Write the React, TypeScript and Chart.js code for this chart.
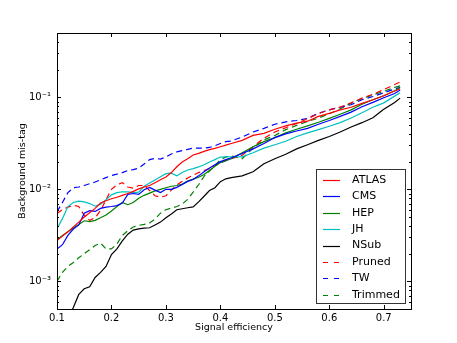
import React, { useEffect, useRef } from "react";
import { Chart, registerables } from "chart.js";

Chart.register(...registerables);

const effX = [
  0.10, 0.11, 0.12, 0.13, 0.14, 0.15, 0.16, 0.17, 0.18, 0.19,
  0.20, 0.21, 0.22, 0.23, 0.24, 0.25, 0.26, 0.27, 0.28, 0.29,
  0.30, 0.31, 0.32, 0.33, 0.34, 0.35, 0.36, 0.37, 0.38, 0.39,
  0.40, 0.41, 0.42, 0.44, 0.46, 0.48, 0.50, 0.52, 0.54, 0.56,
  0.58, 0.60, 0.62, 0.64, 0.66, 0.68, 0.70, 0.72, 0.73,
];

const atlas = [
  2.78e-3, 3.1e-3, 3.45e-3, 3.9e-3, 4.4e-3, 5.0e-3, 5.55e-3, 6.2e-3, 7.1e-3, 7.5e-3,
  7.9e-3, 8.2e-3, 8.6e-3, 9.0e-3, 9.5e-3, 1.01e-2, 1.06e-2, 1.1e-2, 1.18e-2, 1.27e-2,
  1.36e-2, 1.52e-2, 1.76e-2, 1.98e-2, 2.15e-2, 2.36e-2, 2.46e-2, 2.58e-2, 2.7e-2, 2.79e-2,
  2.9e-2, 3.02e-2, 3.15e-2, 3.4e-2, 3.85e-2, 4.05e-2, 4.5e-2, 4.9e-2, 5.25e-2, 5.5e-2,
  6.2e-2, 6.7e-2, 7.3e-2, 7.8e-2, 8.6e-2, 9.4e-2, 0.104, 0.117, 0.123,
];

const cms = [
  2.25e-3, 2.5e-3, 3.15e-3, 3.7e-3, 4.1e-3, 5.5e-3, 5.85e-3, 5.75e-3, 6.2e-3, 6.4e-3,
  6.5e-3, 6.65e-3, 7.1e-3, 8.8e-3, 9.0e-3, 8.8e-3, 9.9e-3, 1.05e-2, 9.8e-3, 9.2e-3,
  1.0e-2, 1.0e-2, 1.05e-2, 1.13e-2, 1.22e-2, 1.28e-2, 1.4e-2, 1.55e-2, 1.7e-2, 1.85e-2,
  2.0e-2, 2.1e-2, 2.2e-2, 2.45e-2, 2.75e-2, 3.15e-2, 3.65e-2, 4.0e-2, 4.3e-2, 4.6e-2,
  5.1e-2, 5.6e-2, 6.2e-2, 6.9e-2, 7.9e-2, 8.8e-2, 9.9e-2, 0.11, 0.12,
];

const hep = [
  2.83e-3, 3.15e-3, 3.45e-3, 3.8e-3, 4.15e-3, 4.55e-3, 4.45e-3, 4.6e-3, 4.9e-3, 5.25e-3,
  5.8e-3, 6.5e-3, 7.2e-3, 6.8e-3, 7.2e-3, 8.0e-3, 8.6e-3, 9.1e-3, 9.6e-3, 1.0e-2,
  1.04e-2, 1.08e-2, 1.1e-2, 1.14e-2, 1.23e-2, 1.29e-2, 1.35e-2, 1.45e-2, 1.6e-2, 1.78e-2,
  1.95e-2, 2.05e-2, 2.15e-2, 2.5e-2, 2.9e-2, 3.3e-2, 3.65e-2, 4.1e-2, 4.5e-2, 4.9e-2,
  5.35e-2, 5.9e-2, 6.55e-2, 7.3e-2, 8.4e-2, 9.4e-2, 0.104, 0.118, 0.128,
];

const jh = [
  3.73e-3, 4.8e-3, 6.5e-3, 7.2e-3, 7.45e-3, 7.3e-3, 7.0e-3, 6.55e-3, 6.9e-3, 7.7e-3,
  8.7e-3, 9.2e-3, 9.4e-3, 9.4e-3, 9.2e-3, 9.3e-3, 1.08e-2, 1.17e-2, 1.26e-2, 1.37e-2,
  1.48e-2, 1.5e-2, 1.4e-2, 1.52e-2, 1.62e-2, 1.68e-2, 1.75e-2, 1.85e-2, 1.98e-2, 2.1e-2,
  2.24e-2, 2.26e-2, 2.26e-2, 2.25e-2, 2.5e-2, 2.8e-2, 3.05e-2, 3.33e-2, 3.75e-2, 4.1e-2,
  4.45e-2, 4.85e-2, 5.3e-2, 5.95e-2, 6.8e-2, 7.8e-2, 8.7e-2, 0.103, 0.112,
];

const nsub = [
  2.4e-4, 3.0e-4, 3.9e-4, 5.2e-4, 7.2e-4, 8.3e-4, 8.7e-4, 1.1e-3, 1.25e-3, 1.45e-3,
  1.95e-3, 2.25e-3, 2.75e-3, 3.25e-3, 3.6e-3, 3.72e-3, 3.78e-3, 3.82e-3, 4.1e-3, 4.4e-3,
  4.9e-3, 5.4e-3, 6.0e-3, 6.15e-3, 6.3e-3, 6.45e-3, 7.3e-3, 8.4e-3, 9.7e-3, 1.04e-2,
  1.21e-2, 1.3e-2, 1.34e-2, 1.4e-2, 1.55e-2, 1.9e-2, 2.15e-2, 2.4e-2, 2.75e-2, 3.05e-2,
  3.4e-2, 3.75e-2, 4.2e-2, 4.75e-2, 5.3e-2, 6.0e-2, 7.4e-2, 8.8e-2, 9.8e-2,
];

const pruned = [
  5.45e-3, 6.0e-3, 6.4e-3, 6.7e-3, 6.5e-3, 5.2e-3, 4.6e-3, 4.9e-3, 5.9e-3, 7.7e-3,
  1.0e-2, 1.12e-2, 1.18e-2, 1.06e-2, 1.03e-2, 1.1e-2, 1.1e-2, 9.7e-3, 8.5e-3, 8.2e-3,
  8.5e-3, 9.8e-3, 1.12e-2, 1.22e-2, 1.33e-2, 1.42e-2, 1.52e-2, 1.6e-2, 1.68e-2, 1.8e-2,
  1.93e-2, 2.05e-2, 2.15e-2, 2.35e-2, 2.9e-2, 3.6e-2, 4.2e-2, 4.67e-2, 5.2e-2, 5.85e-2,
  6.65e-2, 7.3e-2, 7.85e-2, 8.7e-2, 9.8e-2, 0.108, 0.121, 0.138, 0.147,
];

const tw = [
  5.7e-3, 7.2e-3, 9.2e-3, 1.04e-2, 1.06e-2, 1.1e-2, 1.15e-2, 1.2e-2, 1.27e-2, 1.34e-2,
  1.41e-2, 1.46e-2, 1.52e-2, 1.6e-2, 1.64e-2, 1.7e-2, 1.88e-2, 2.1e-2, 2.17e-2, 2.13e-2,
  2.25e-2, 2.42e-2, 2.55e-2, 2.63e-2, 2.72e-2, 2.8e-2, 2.8e-2, 2.81e-2, 2.85e-2, 2.97e-2,
  3.15e-2, 3.3e-2, 3.35e-2, 3.7e-2, 4.2e-2, 4.6e-2, 5.1e-2, 5.4e-2, 5.6e-2, 5.9e-2,
  6.7e-2, 7.3e-2, 7.8e-2, 8.3e-2, 9.4e-2, 0.102, 0.112, 0.123, 0.128,
];

const trimmed = [
  1.0e-3, 1.25e-3, 1.45e-3, 1.6e-3, 1.8e-3, 2.0e-3, 2.2e-3, 2.45e-3, 2.6e-3, 2.25e-3,
  2.25e-3, 2.55e-3, 3.15e-3, 3.55e-3, 3.9e-3, 4.05e-3, 4.15e-3, 4.3e-3, 4.75e-3, 5.5e-3,
  6.0e-3, 6.25e-3, 6.5e-3, 6.9e-3, 7.8e-3, 9.3e-3, 1.12e-2, 1.38e-2, 1.58e-2, 1.82e-2,
  2.1e-2, 2.25e-2, 2.3e-2, 2.15e-2, 2.8e-2, 3.45e-2, 3.85e-2, 4.45e-2, 4.95e-2, 5.45e-2,
  5.95e-2, 6.6e-2, 7.5e-2, 8.6e-2, 9.7e-2, 0.106, 0.116, 0.128, 0.133,
];

const seriesNames = ["ATLAS", "CMS", "HEP", "JH", "NSub", "Pruned", "TW", "Trimmed"];
const seriesValues = [atlas, cms, hep, jh, nsub, pruned, tw, trimmed];
const seriesColors = ["#ff0000", "#0000ff", "#008000", "#00bfbf", "#000000", "#ff0000", "#0000ff", "#008000"];
const seriesDashed = [false, false, false, false, false, true, true, true];

const xTickValues = [0.1, 0.2, 0.3, 0.4, 0.5, 0.6, 0.7];
const yTickValues = [1e-3, 1e-2, 1e-1];
const xMin = 0.1;
const xMax = 0.75;
const yMin = 5e-4;
const yMax = 0.5;
const xTitle = "Signal efficiency";
const yTitle = "Background mis-tag";

const FONT = "'DejaVu Sans', sans-serif";
const SUP: Record<string, string> = { "-": "\u207B", "0": "\u2070", "1": "\u00B9", "2": "\u00B2", "3": "\u00B3", "4": "\u2074" };
const powLabel = (v: number) => {
  const e = Math.round(Math.log10(v));
  return "10" + String(e).split("").map((c) => SUP[c] || c).join("");
};

const DASH = [6, 4];

const framePlugin = {
  id: "mplFrame",
  afterDatasetsDraw(chart: any) {
    const { ctx, chartArea: a, scales } = chart;
    const xs = scales.x;
    const ys = scales.y;
    ctx.save();
    ctx.strokeStyle = "#000";
    ctx.lineWidth = 1;
    ctx.beginPath();
    xTickValues.forEach((v) => {
      const px = Math.round(xs.getPixelForValue(v)) + 0.5;
      ctx.moveTo(px, a.bottom);
      ctx.lineTo(px, a.bottom - 4);
      ctx.moveTo(px, a.top);
      ctx.lineTo(px, a.top + 4);
    });
    const lo = Math.floor(Math.log10(yMin));
    const hi = Math.ceil(Math.log10(yMax));
    for (let e = lo; e <= hi; e++) {
      for (let k = 1; k <= 9; k++) {
        const v = k * Math.pow(10, e);
        if (v < yMin * 0.999 || v > yMax * 1.001) continue;
        const len = k === 1 ? 4 : 2;
        const py = Math.round(ys.getPixelForValue(v)) + 0.5;
        ctx.moveTo(a.left, py);
        ctx.lineTo(a.left + len, py);
        ctx.moveTo(a.right, py);
        ctx.lineTo(a.right - len, py);
      }
    }
    ctx.stroke();
    ctx.strokeRect(Math.round(a.left) + 0.5, Math.round(a.top) + 0.5, Math.round(a.right - a.left), Math.round(a.bottom - a.top));

    // legend
    const lx = 316;
    const ly = 169;
    const lw = 89;
    const lh = 134;
    ctx.fillStyle = "#fff";
    ctx.fillRect(lx, ly, lw, lh);
    ctx.strokeStyle = "#333";
    ctx.strokeRect(lx + 0.5, ly + 0.5, lw, lh);
    ctx.font = `11px ${FONT}`;
    ctx.textBaseline = "middle";
    ctx.textAlign = "left";
    seriesNames.forEach((name, i) => {
      const y = ly + 11 + i * 16.4;
      ctx.beginPath();
      ctx.strokeStyle = seriesColors[i];
      ctx.lineWidth = 1.2;
      ctx.setLineDash(seriesDashed[i] ? [5, 6] : []);
      ctx.moveTo(323, Math.round(y) + 0.5);
      ctx.lineTo(340, Math.round(y) + 0.5);
      ctx.stroke();
      ctx.setLineDash([]);
      ctx.fillStyle = "#000";
      ctx.fillText(name, 352, y);
    });
    ctx.restore();
  },
};

export default function App() {
  const ref = useRef<HTMLCanvasElement | null>(null);

  useEffect(() => {
    if (!ref.current) return;
    const datasets = seriesNames.map((name, i) => ({
      label: name,
      data: effX.map((x, j) => ({ x, y: seriesValues[i][j] })),
      borderColor: seriesColors[i],
      backgroundColor: seriesColors[i],
      borderWidth: 1.2,
      borderDash: seriesDashed[i] ? DASH : [],
      pointRadius: 0,
      tension: 0,
      fill: false,
    }));
    const chart = new Chart(ref.current, {
      type: "line",
      data: { datasets },
      plugins: [framePlugin],
      options: {
        animation: false,
        responsive: false,
        maintainAspectRatio: false,
        devicePixelRatio: 1,
        layout: { padding: { left: 0, right: 46, top: 33, bottom: 0 } },
        plugins: { legend: { display: false }, tooltip: { enabled: false } },
        scales: {
          x: {
            type: "linear",
            min: xMin,
            max: xMax,
            grid: { display: false, drawTicks: false },
            border: { display: false },
            afterBuildTicks: (s: any) => {
              s.ticks = xTickValues.map((v) => ({ value: v }));
            },
            afterFit: (s: any) => {
              s.height = 34;
            },
            ticks: {
              color: "#000",
              font: { family: FONT, size: 10 },
              padding: 3,
              maxRotation: 0,
              autoSkip: false,
              callback: (v: any) => Number(v).toFixed(1),
            },
            title: {
              display: true,
              text: xTitle,
              color: "#000",
              font: { family: FONT, size: 9.5 },
              padding: { top: 0, bottom: 10 },
            },
          },
          y: {
            type: "logarithmic",
            min: yMin,
            max: yMax,
            grid: { display: false, drawTicks: false },
            border: { display: false },
            afterBuildTicks: (s: any) => {
              s.ticks = yTickValues.map((v) => ({ value: v, major: true }));
            },
            afterFit: (s: any) => {
              s.width = 57;
            },
            ticks: {
              color: "#000",
              font: { family: FONT, size: 10 },
              padding: 6,
              autoSkip: false,
              callback: (v: any) => powLabel(Number(v)),
            },
            title: {
              display: true,
              text: yTitle,
              color: "#000",
              font: { family: FONT, size: 9.5 },
              padding: { top: 17, bottom: 0 },
            },
          },
        },
      },
    } as any);
    return () => chart.destroy();
  }, []);

  return (
    <div style={{ position: "fixed", left: 0, top: 0, width: 457, height: 343, background: "#fff" }}>
      <canvas ref={ref} width={457} height={343} style={{ width: 457, height: 343, display: "block" }} />
    </div>
  );
}
